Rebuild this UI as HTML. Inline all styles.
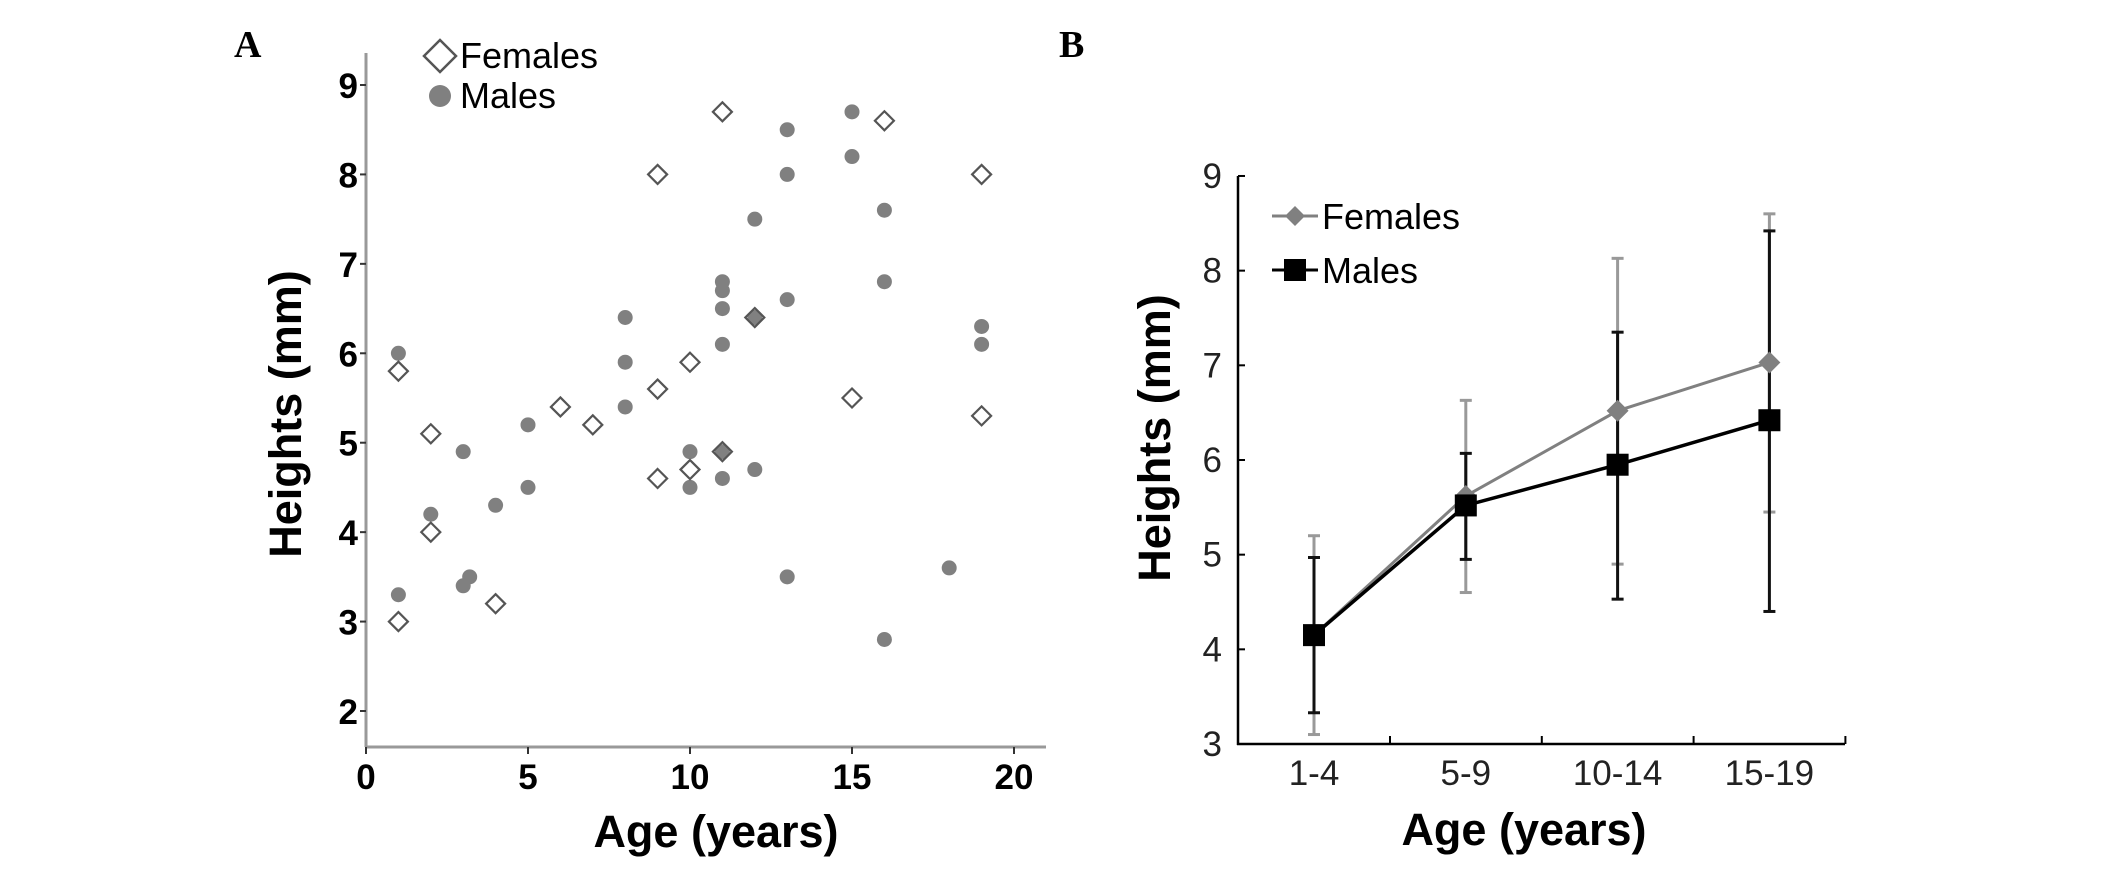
<!DOCTYPE html>
<html><head><meta charset="utf-8"><style>
body{margin:0;background:#fff;}
svg{display:block;}
</style></head><body>
<svg id="chart" width="2126" height="883" xmlns="http://www.w3.org/2000/svg" font-family="Liberation Sans, sans-serif">
<rect width="2126" height="883" fill="#fff"/>
<text x="234" y="57" font-family="Liberation Serif, serif" font-weight="bold" font-size="38">A</text>
<text x="1059" y="57" font-family="Liberation Serif, serif" font-weight="bold" font-size="38">B</text>
<g id="pa"></g>
<g id="pb"></g>
</svg>
<script>
// Panel A data
const aXTicks = [0,5,10,15,20];
const aYTicks = [2,3,4,5,6,7,8,9];
const femaleAge = [1,1,2,2,4,6,7,9,9,9,10,10,11,11,12,15,16,19,19];
const femaleHeight = [5.8,3,5.1,4,3.2,5.4,5.2,8,5.6,4.6,5.9,4.7,8.7,4.9,6.4,5.5,8.6,8,5.3];
const maleAge = [1,1,2,3,3,3.2,4,5,5,8,8,8,10,10,11,11,11,11,11,11,12,12,12,13,13,13,13,15,15,16,16,16,18,19,19];
const maleHeight = [6,3.3,4.2,4.9,3.4,3.5,4.3,5.2,4.5,6.4,5.9,5.4,4.9,4.5,6.8,6.7,6.5,6.1,4.6,4.9,7.5,4.7,6.4,8.5,8,6.6,3.5,8.7,8.2,7.6,6.8,2.8,3.6,6.3,6.1];
// Panel B data
const bCategories = ['1-4','5-9','10-14','15-19'];
const bYTicks = [3,4,5,6,7,8,9];
const bFemaleMean = [4.15,5.62,6.52,7.03];
const bFemaleUpper = [5.2,6.63,8.13,8.6];
const bFemaleLower = [3.1,4.6,4.9,5.45];
const bMaleMean = [4.15,5.52,5.95,6.42];
const bMaleUpper = [4.97,6.07,7.35,8.42];
const bMaleLower = [3.33,4.95,4.53,4.4];

const NS='http://www.w3.org/2000/svg';
function mk(parent,tag,attrs,text){const e=document.createElementNS(NS,tag);for(const k in attrs)e.setAttribute(k,attrs[k]);if(text!==undefined)e.textContent=text;parent.appendChild(e);return e;}

// ---------- Panel A ----------
const pa=document.getElementById('pa');
const ax=v=>366+v*32.4;
const ay=v=>711-(v-2)*89.43;
let e;
e=mk(pa,'line',{x1:366,y1:53,x2:366,y2:747,stroke:'#999','stroke-width':3});


e=mk(pa,'line',{x1:366,y1:747,x2:1046,y2:747,stroke:'#999','stroke-width':3});


aYTicks.forEach(t=>{
  mk(pa,'line',{x1:360,y1:ay(t),x2:366,y2:ay(t),stroke:'#333','stroke-width':2});
  e=mk(pa,'text',{x:358,y:ay(t)+13,'text-anchor':'end','font-weight':'bold','font-size':35,fill:'#000'},t);
  
  
});
aXTicks.forEach(t=>{
  mk(pa,'line',{x1:ax(t),y1:747,x2:ax(t),y2:754,stroke:'#333','stroke-width':2});
  e=mk(pa,'text',{x:ax(t),y:789,'text-anchor':'middle','font-weight':'bold','font-size':35,fill:'#000'},t);
  
  
});
e=mk(pa,'text',{x:716,y:847,'text-anchor':'middle','font-weight':'bold','font-size':45},'Age (years)');


e=mk(pa,'text',{x:0,y:0,'text-anchor':'middle','font-weight':'bold','font-size':45,transform:'translate(301,414) rotate(-90)'},'Heights (mm)');


maleAge.forEach((a,i)=>{
  e=mk(pa,'circle',{cx:ax(a),cy:ay(maleHeight[i]),r:7.5,fill:'#808080'});
  
  
});
femaleAge.forEach((a,i)=>{
  const x=ax(a),y=ay(femaleHeight[i]);
  e=mk(pa,'polygon',{points:`${x},${y-9.5} ${x+9.5},${y} ${x},${y+9.5} ${x-9.5},${y}`,fill:'none',stroke:'#555','stroke-width':2.2});
  
  
});
e=mk(pa,'polygon',{points:'440,40 456,56 440,72 424,56',fill:'none',stroke:'#555','stroke-width':2.5});


e=mk(pa,'text',{x:460,y:68,'font-size':36},'Females');


e=mk(pa,'circle',{cx:440,cy:96,r:11,fill:'#808080'});


e=mk(pa,'text',{x:460,y:108,'font-size':36},'Males');



// ---------- Panel B ----------
const pb=document.getElementById('pb');
const bx=i=>1314+i*151.8;
const by=v=>744-(v-3)*94.67;
e=mk(pb,'line',{x1:1238,y1:176,x2:1238,y2:745,stroke:'#000','stroke-width':2.5});


e=mk(pb,'line',{x1:1237,y1:744,x2:1845,y2:744,stroke:'#000','stroke-width':2.5});


bYTicks.forEach(t=>{
  mk(pb,'line',{x1:1238,y1:by(t),x2:1245,y2:by(t),stroke:'#000','stroke-width':2});
  e=mk(pb,'text',{x:1222,y:by(t)+12,'text-anchor':'end','font-size':35,fill:'#222'},t);
  
  
});
bCategories.forEach((c,i)=>{
  const tx=bx(i)+76;
  mk(pb,'line',{x1:tx,y1:736,x2:tx,y2:744,stroke:'#000','stroke-width':2});
  e=mk(pb,'text',{x:bx(i),y:785,'text-anchor':'middle','font-size':35,fill:'#222'},c);
  
  
});
e=mk(pb,'text',{x:1524,y:845,'text-anchor':'middle','font-weight':'bold','font-size':45},'Age (years)');


e=mk(pb,'text',{x:0,y:0,'text-anchor':'middle','font-weight':'bold','font-size':45,transform:'translate(1170,438) rotate(-90)'},'Heights (mm)');


function errBars(lo,hi,color,name){
  lo.forEach((l,i)=>{
    const x=bx(i);
    const g=mk(pb,'g',{stroke:color,'stroke-width':3});
    
    
    mk(g,'line',{x1:x,y1:by(l),x2:x,y2:by(hi[i])});
    mk(g,'line',{x1:x-6,y1:by(l),x2:x+6,y2:by(l)});
    mk(g,'line',{x1:x-6,y1:by(hi[i]),x2:x+6,y2:by(hi[i])});
  });
}
errBars(bFemaleLower,bFemaleUpper,'#999','female-error-bar');
errBars(bMaleLower,bMaleUpper,'#111','male-error-bar');
e=mk(pb,'polyline',{points:bFemaleMean.map((v,i)=>bx(i)+','+by(v)).join(' '),fill:'none',stroke:'#808080','stroke-width':3});


bFemaleMean.forEach((v,i)=>{
  const x=bx(i),y=by(v);
  e=mk(pb,'polygon',{points:`${x},${y-11} ${x+11},${y} ${x},${y+11} ${x-11},${y}`,fill:'#808080'});
  
  
});
e=mk(pb,'polyline',{points:bMaleMean.map((v,i)=>bx(i)+','+by(v)).join(' '),fill:'none',stroke:'#000','stroke-width':3.5});


bMaleMean.forEach((v,i)=>{
  e=mk(pb,'rect',{x:bx(i)-11,y:by(v)-11,width:22,height:22,fill:'#000'});
  
  
});
// legend
mk(pb,'line',{x1:1272,y1:216,x2:1318,y2:216,stroke:'#808080','stroke-width':3});
e=mk(pb,'polygon',{points:'1295,206 1305,216 1295,226 1285,216',fill:'#808080'});


e=mk(pb,'text',{x:1322,y:229,'font-size':36},'Females');


mk(pb,'line',{x1:1272,y1:270,x2:1318,y2:270,stroke:'#000','stroke-width':3});
e=mk(pb,'rect',{x:1284,y:259,width:22,height:22,fill:'#000'});


e=mk(pb,'text',{x:1322,y:283,'font-size':36},'Males');


</script>
</body></html>
